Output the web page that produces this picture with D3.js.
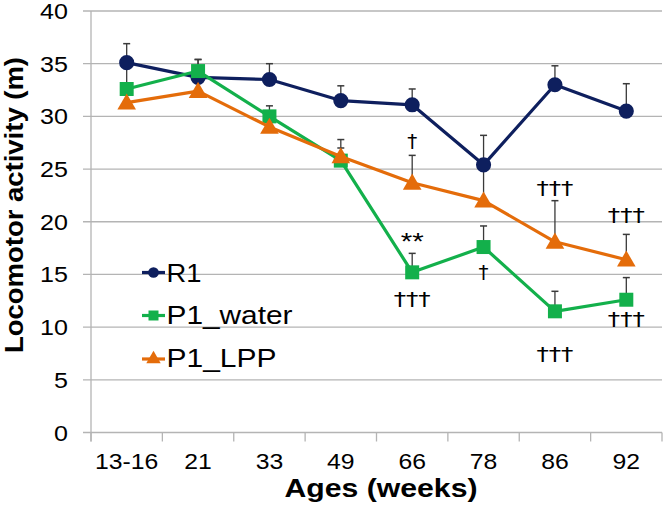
<!DOCTYPE html>
<html>
<head>
<meta charset="utf-8">
<script src="https://cdn.jsdelivr.net/npm/d3@7"></script>
<style>
  html, body { margin: 0; padding: 0; background: #fff; }
  svg { display: block; }
  text { font-family: "Liberation Sans", Arial, sans-serif; fill: #000; }
</style>
</head>
<body>
<svg id="chart" width="663" height="518"></svg>
<script>
// ---------- data ----------
const ages = ["13-16", "21", "33", "49", "66", "78", "86", "92"];
const seriesNames = ["R1", "P1_water", "P1_LPP"];
const r1Values     = [35.1, 33.7, 33.5, 31.5, 31.1, 25.4, 33.0, 30.5];
const r1Errors     = [1.8, 1.7, 1.5, 1.4, 1.5, 2.8, 1.8, 2.6];
const waterValues  = [32.6, 34.3, 30.0, 25.8, 15.2, 17.6, 11.5, 12.6];
const waterErrors  = [2.4, 1.1, 1.0, 2.0, 1.8, 2.0, 1.9, 2.1];
const lppValues    = [31.3, 32.4, 29.0, 26.2, 23.7, 22.0, 18.1, 16.4];
const lppErrors    = [1.0, 1.0, 0.8, 0.8, 2.6, 3.8, 3.9, 2.4];
const yTicks = [0, 5, 10, 15, 20, 25, 30, 35, 40];
// significance marks: category, y value of text baseline, label
const marks = [
  { age: "66", y: 27.0, label: "†" },
  { age: "66", y: 17.3, label: "**" },
  { age: "66", y: 12.0, label: "†††" },
  { age: "78", y: 14.6, label: "†" },
  { age: "86", y: 22.5, label: "†††" },
  { age: "86", y: 6.8,  label: "†††" },
  { age: "92", y: 20.0, label: "†††" },
  { age: "92", y: 10.1, label: "†††" }
];

// ---------- layout ----------
(function () {
const colors = { "R1": "#0e1f5e", "P1_water": "#13b04b", "P1_LPP": "#e46c0a" };
const symbols = { "R1": d3.symbolCircle, "P1_water": d3.symbolSquare, "P1_LPP": d3.symbolTriangle };
const symSize = { "R1": 180, "P1_water": 196, "P1_LPP": 150 };

const svg = d3.select("#chart");
const pLeft = 91, pRight = 662, pTop = 11, pBottom = 432.5;

const x = d3.scaleBand().domain(ages).range([pLeft, pRight]).padding(0);
const y = d3.scaleLinear().domain([0, 40]).range([pBottom, pTop]);
const cx = a => x(a) + x.bandwidth() / 2;

function stretch(sel, f) {
  sel.each(function () {
    const w = this.getComputedTextLength();
    d3.select(this).attr("textLength", w * f).attr("lengthAdjust", "spacingAndGlyphs");
  });
}

// gridlines
svg.append("g").selectAll("line").data(yTicks).join("line")
  .attr("x1", pLeft - 8).attr("x2", pRight)
  .attr("y1", d => y(d)).attr("y2", d => y(d))
  .attr("stroke", "#b4b4b4").attr("stroke-width", 1.3);

// y axis line
svg.append("line").attr("x1", pLeft).attr("x2", pLeft)
  .attr("y1", y(40)).attr("y2", pBottom + 9)
  .attr("stroke", "#b4b4b4").attr("stroke-width", 1.3);

// x ticks at boundaries
const bounds = ages.map(a => x(a)).concat([pRight]);
svg.append("g").selectAll("line").data(bounds).join("line")
  .attr("x1", d => d).attr("x2", d => d)
  .attr("y1", pBottom).attr("y2", pBottom + 9)
  .attr("stroke", "#b4b4b4").attr("stroke-width", 1.3);

// y tick labels
const yl = svg.append("g").selectAll("text").data(yTicks).join("text")
  .attr("x", 68).attr("y", d => y(d) + 8)
  .attr("text-anchor", "end")
  .attr("font-size", 22)
  .text(d => d);
stretch(yl, 1.14);

// x tick labels
const xl = svg.append("g").selectAll("text").data(ages).join("text")
  .attr("x", d => cx(d)).attr("y", 469)
  .attr("text-anchor", "middle")
  .attr("font-size", 21.5)
  .text(d => d);
stretch(xl, 1.15);

// axis titles
svg.append("text")
  .attr("x", 381).attr("y", 497)
  .attr("text-anchor", "middle")
  .attr("font-size", 26).attr("font-weight", "bold")
  .attr("textLength", 193).attr("lengthAdjust", "spacingAndGlyphs")
  .text("Ages (weeks)");
svg.append("text")
  .attr("transform", "translate(23,205) rotate(-90)")
  .attr("text-anchor", "middle")
  .attr("font-size", 26).attr("font-weight", "bold")
  .attr("textLength", 296).attr("lengthAdjust", "spacingAndGlyphs")
  .text("Locomotor activity (m)");

// series
const series = [
  { name: "R1", values: r1Values, errors: r1Errors },
  { name: "P1_water", values: waterValues, errors: waterErrors },
  { name: "P1_LPP", values: lppValues, errors: lppErrors }
];

// error bars (upper)
const eg = svg.append("g");
series.forEach(s => {
  s.values.forEach((v, i) => {
    const xx = cx(ages[i]);
    eg.append("line").attr("x1", xx).attr("x2", xx)
      .attr("y1", y(v)).attr("y2", y(v + s.errors[i]))
      .attr("stroke", "#3a3a3a").attr("stroke-width", 1.3);
    eg.append("line").attr("x1", xx - 3.5).attr("x2", xx + 3.5)
      .attr("y1", y(v + s.errors[i])).attr("y2", y(v + s.errors[i]))
      .attr("stroke", "#3a3a3a").attr("stroke-width", 1.5);
  });
});

const line = d3.line().x((d, i) => cx(ages[i])).y(d => y(d));
series.forEach(s => {
  const g = svg.append("g");
  g.append("path").datum(s.values)
    .attr("d", line).attr("fill", "none")
    .attr("stroke", colors[s.name]).attr("stroke-width", 3.2)
    .attr("stroke-linejoin", "round");
  g.selectAll("path.m").data(s.values).join("path").attr("class", "m")
    .attr("transform", (d, i) => `translate(${cx(ages[i])},${y(d) + (s.name === "P1_LPP" ? 1.5 : 0)})`)
    .attr("d", d3.symbol().type(symbols[s.name]).size(symSize[s.name]))
    .attr("fill", colors[s.name]);
});

// significance marks
const mk = svg.append("g").selectAll("text").data(marks).join("text")
  .attr("x", d => cx(d.age)).attr("y", d => y(d.y))
  .attr("text-anchor", "middle")
  .style("font-family", d => d.label === "**" ? "'Liberation Sans', Arial, sans-serif" : "'DejaVu Sans', sans-serif")
  .attr("font-size", d => d.label === "**" ? 24 : 19)
  .text(d => d.label);
mk.each(function (d) {
  const w = d.label === "**" ? 23 : (d.label === "†††" ? 37 : 10);
  d3.select(this).attr("textLength", w).attr("lengthAdjust", "spacingAndGlyphs");
});

// legend
const legY = [272.5, 315.5, 359];
const legBase = [282, 323.5, 366.5];
const legSymSize = { "R1": 90, "P1_water": 100, "P1_LPP": 90 };
const legW = { "R1": 35, "P1_water": 126, "P1_LPP": 110 };
const lg = svg.append("g");
seriesNames.forEach((n, i) => {
  lg.append("line").attr("x1", 142).attr("x2", 165)
    .attr("y1", legY[i]).attr("y2", legY[i])
    .attr("stroke", colors[n]).attr("stroke-width", 3.2);
  lg.append("path")
    .attr("transform", `translate(153.5,${legY[i]})`)
    .attr("d", d3.symbol().type(symbols[n]).size(legSymSize[n]))
    .attr("fill", colors[n]);
  lg.append("text")
    .attr("x", 166.5).attr("y", legBase[i])
    .attr("font-size", 25)
    .attr("textLength", legW[n]).attr("lengthAdjust", "spacingAndGlyphs")
    .text(n);
});
})();
</script>
</body>
</html>
